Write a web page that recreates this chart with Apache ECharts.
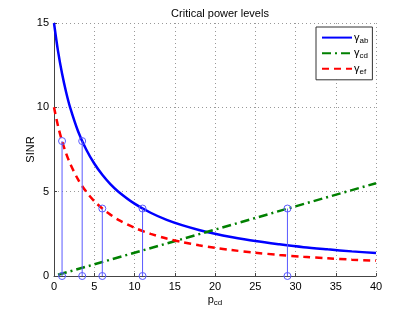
<!DOCTYPE html>
<html><head><meta charset="utf-8">
<script src="https://cdn.jsdelivr.net/npm/echarts@6/dist/echarts.min.js"></script>
<style>html,body{margin:0;padding:0;background:#fff}#c{width:416px;height:312px}</style>
</head><body><div id="c"></div>
<script>
var curveX = [0,0.5,1,1.5,2,3,4,5,6,7,8,10,12,14,16,18,20,22,25,28,31,34,37,40];
var gammaAB = [15,13.33,12,10.91,10,8.57,7.5,6.67,6,5.45,5,4.29,3.75,3.33,3,2.73,2.5,2.31,2.07,1.88,1.71,1.58,1.46,1.36];
var gammaEF = [10,8.89,8,7.27,6.67,5.71,5,4.44,4,3.64,3.33,2.86,2.5,2.22,2,1.82,1.67,1.54,1.38,1.25,1.14,1.05,0.97,0.91];
var cdX = [0.5,10,20,30,40];
var gammaCD = [0.07,1.38,2.75,4.13,5.5];
var stemX = [1,3.5,6,11,29];
var stemY = [8,8,4,4,4];
var xTicks = [0,5,10,15,20,25,30,35,40];
var yTicks = [0,5,10,15];

function pairs(xs, ys){ return xs.map(function(x,i){return [x, ys[i]];}); }
var font = 'Liberation Sans, Arial, sans-serif';
function leg(name, sub){ return '{g|' + name + '}{s|' + sub + '}'; }

var chart = echarts.init(document.getElementById('c'), null, {renderer:'canvas'});
chart.setOption({
  animation:false,
  backgroundColor:'#fff',
  title:{text:'Critical power levels', left:215, textAlign:'center', top:3,
    textStyle:{fontFamily:font, fontSize:11, fontWeight:'normal', color:'#000'}},
  grid:{left:54, right:40, top:23, bottom:35, containLabel:false},
  legend:{
    orient:'vertical', left:316, top:27, padding:[5,4,4,5], itemGap:3,
    itemWidth:30, itemHeight:14,
    borderColor:'#333', borderWidth:1, backgroundColor:'#fff',
    itemStyle:{opacity:0},
    data:['ab','cd','ef'],
    formatter:function(n){ return leg('γ', n); },
    textStyle:{fontFamily:font, color:'#000', padding:[0,0,0,-3],
      rich:{g:{fontSize:11, fontFamily:font}, s:{fontSize:8, fontFamily:font, padding:[6,0,0,0]}}}
  },
  xAxis:{type:'value', min:xTicks[0], max:xTicks[xTicks.length-1], interval:5,
    name:'{p|p}{s|cd}', nameLocation:'middle', nameGap:16, nameMoveOverlap:false,
    nameTextStyle:{rich:{p:{fontSize:11, fontFamily:font, color:'#000'}, s:{fontSize:8, fontFamily:font, color:'#000', padding:[7,0,0,0]}}},
    axisLine:{show:true, lineStyle:{color:'#444', width:1}},
    axisTick:{show:true, inside:true, length:3, lineStyle:{color:'#444'}},
    axisLabel:{fontFamily:font, fontSize:11, color:'#000', margin:5},
    splitLine:{show:true, lineStyle:{type:[1,3], color:'#999', width:1}}},
  yAxis:{type:'value', min:yTicks[0], max:yTicks[yTicks.length-1], interval:5,
    name:'SINR', nameLocation:'middle', nameGap:18, nameMoveOverlap:false,
    nameTextStyle:{fontFamily:font, fontSize:11, color:'#000'},
    axisLine:{show:true, lineStyle:{color:'#444', width:1}},
    axisTick:{show:true, inside:true, length:3, lineStyle:{color:'#444'}},
    axisLabel:{fontFamily:font, fontSize:11, color:'#000', margin:5},
    splitLine:{show:true, lineStyle:{type:[1,3], color:'#999', width:1}}},
  series:[
    {name:'ab', type:'line', data:pairs(curveX, gammaAB), smooth:0.3, symbol:'none',
      lineStyle:{color:'#0000ff', width:2.5}, itemStyle:{color:'#0000ff'}, z:3},
    {name:'cd', type:'line', data:pairs(cdX, gammaCD), symbol:'none',
      lineStyle:{color:'#008000', width:2.5, type:[9,4,2,4]}, itemStyle:{color:'#008000'}, z:3},
    {name:'ef', type:'line', data:pairs(curveX, gammaEF), smooth:0.3, symbol:'none',
      lineStyle:{color:'#ff0000', width:2.5, type:[7,5]}, itemStyle:{color:'#ff0000'}, z:3},
    {name:'stems', type:'custom', z:4, data:pairs(stemX, stemY),
      renderItem:function(params, api){
        var top = api.coord([api.value(0), api.value(1)]);
        var bot = api.coord([api.value(0), 0]);
        var st = {stroke:'#5a5aff', lineWidth:1, fill:null};
        return {type:'group', children:[
          {type:'line', shape:{x1:bot[0], y1:bot[1], x2:top[0], y2:top[1]}, style:{stroke:'#5a5aff', lineWidth:1}},
          {type:'circle', shape:{cx:top[0], cy:top[1], r:3.5}, style:st},
          {type:'circle', shape:{cx:bot[0], cy:bot[1], r:3.5}, style:st}
        ]};
      }}
  ]
});
</script></body></html>
